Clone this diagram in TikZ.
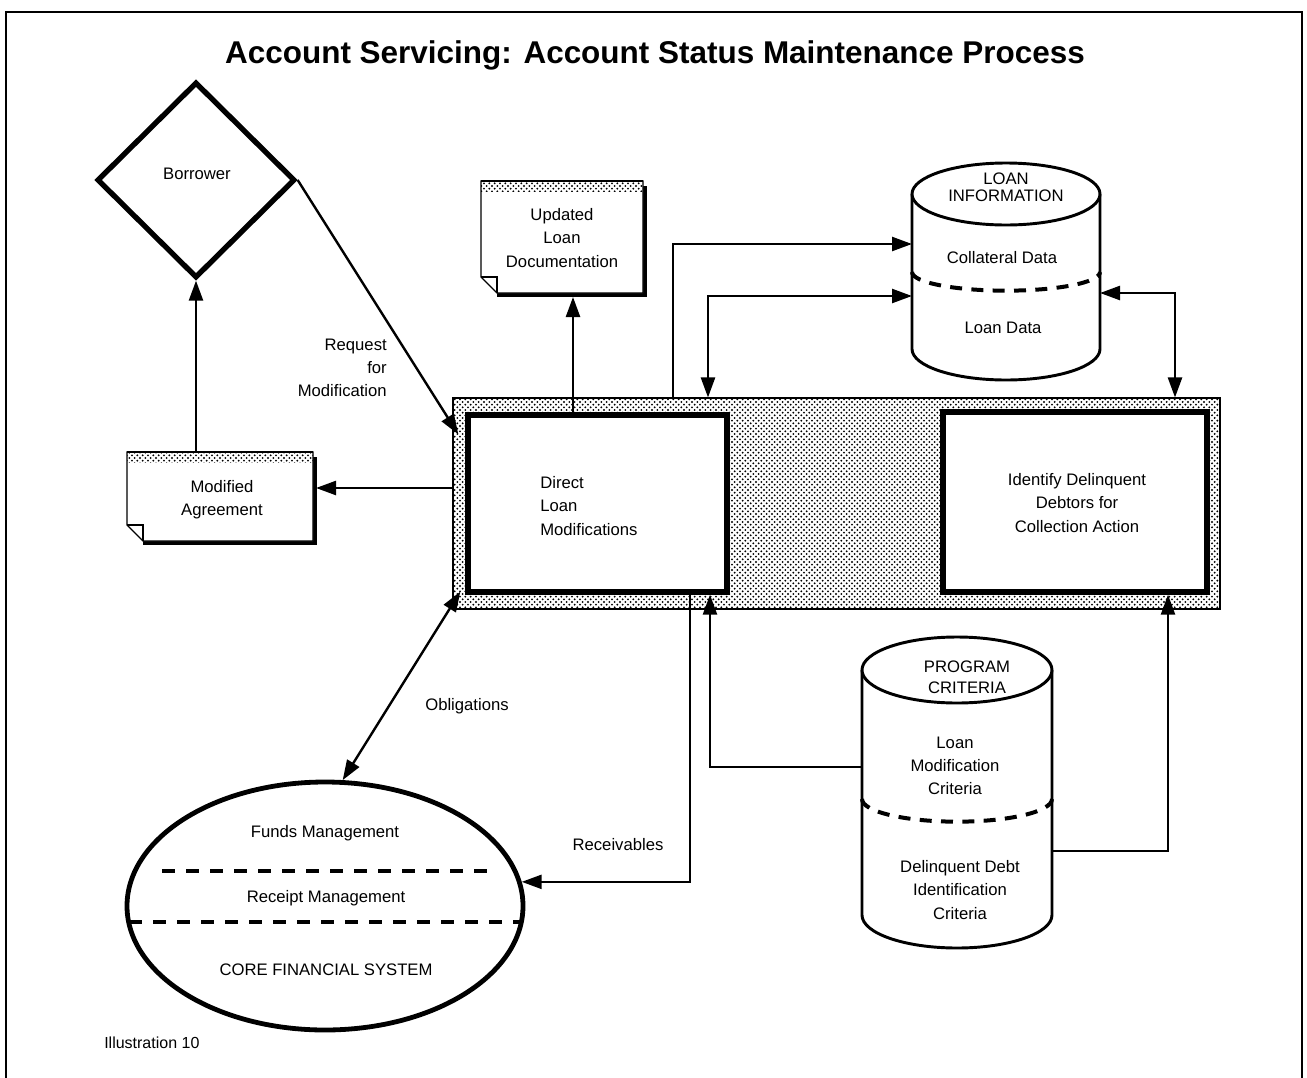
\documentclass[tikz,border=0pt]{standalone}
\usepackage{fontspec}
\setmainfont{Liberation Sans}
\usetikzlibrary{arrows.meta,patterns,shapes.geometric}
\pgfdeclarepatternformonly{mydots}{\pgfpoint{-1pt}{-1pt}}{\pgfpoint{5pt}{5pt}}{\pgfpoint{4pt}{4pt}}{%
  \pgfpathcircle{\pgfpoint{1pt}{1pt}}{0.8pt}%
  \pgfpathcircle{\pgfpoint{3pt}{3pt}}{0.8pt}%
  \pgfusepath{fill}}
\newcommand{\mydocshape}[4]{%
  \draw[line width=3.5pt] (#3+2,#2+5) -- (#3+2,#4+2) -- (#1+16,#4+2);
  \filldraw[fill=white,line width=1pt] (#1,#2) -- (#3,#2) -- (#3,#4) -- (#1+16,#4) -- (#1,#4-16) -- cycle;
  \fill[pattern=mydots] (#1,#2) rectangle (#3,#2+10);
  \draw[line width=1pt] (#1,#2) -- (#3,#2);
  \draw[line width=1pt] (#1,#4-16) -- (#1+16,#4-16) -- (#1+16,#4);
}
\begin{document}
\begin{tikzpicture}[x=0.75pt,y=-0.75pt,
  lbl/.style={font=\fontsize{12.5}{17.5}\selectfont, align=center, inner sep=0pt},
  conn/.style={line width=1.8pt, -{Triangle[length=15pt,width=10.5pt]}},
  bconn/.style={line width=1.8pt, {Triangle[length=15pt,width=10.5pt]}-{Triangle[length=15pt,width=10.5pt]}},
  dsh/.style={line width=3pt, dash pattern=on 10pt off 8pt},
  cyl/.style={line width=2.2pt},
  procbox/.style={draw, fill=white, line width=4pt, inner sep=0pt},
  anchorbox/.style={inner sep=0pt, outer sep=0pt}]
\useasboundingbox (0,0) rectangle (1307,1078);
\draw[line width=2.2pt] (6,1100) -- (6,12) -- (1302,12) -- (1302,1100);

\node[font=\bfseries\fontsize{23.6}{27}\selectfont, inner sep=0pt] (title) at (655,55) {Account Servicing: Account Status Maintenance Process};

% helper coordinates
\coordinate (c244) at (0,244);
\coordinate (c296) at (0,296);
\coordinate (c293) at (0,293);
\coordinate (c488) at (0,488);
\coordinate (c767) at (0,767);
\coordinate (c851) at (0,851);
\coordinate (c573) at (573,0);
\coordinate (c673) at (673,0);
\coordinate (c708) at (708,0);
\coordinate (c1175) at (1175,0);
\coordinate (c690) at (690,0);
\coordinate (c710) at (710,0);
\coordinate (c1168) at (1168,0);

% band
\node[draw, line width=0.8pt, pattern=mydots, minimum width=575.25pt, minimum height=158.25pt, inner sep=0pt] (band) at (836.5,503.5) {};
\node[procbox, minimum width=194.25pt, minimum height=132.75pt] (dlm) at (597.5,503.5) {};
\node[lbl, align=left, anchor=west] (dlmtext) at (540,506) {Direct\\Loan\\Modifications};
\node[procbox, minimum width=198pt, minimum height=135pt] (idb) at (1075,502) {};
\node[lbl] (idbtext) at (1077,503) {Identify Delinquent\\Debtors for\\Collection Action};

% borrower
\node[diamond, draw, line width=4pt, minimum width=148.5pt, minimum height=147pt, inner sep=0pt] (bor) at (196,180) {};
\node[lbl] (bortext) at (197,174) {Borrower};

% documents
\mydocshape{127}{452}{313}{541}
\node[anchorbox, minimum width=141.75pt, minimum height=69pt] (ma) at (221.5,498) {};
\node[lbl] (matext) at (222,500) {Modified\\Agreement};

\mydocshape{481}{181}{643}{293}
\node[anchorbox, minimum width=123pt, minimum height=87pt] (uld) at (563,239) {};
\node[lbl] (uldtext) at (562,238) {Updated\\Loan\\Documentation};

% loan information cylinder
\filldraw[cyl, fill=white] (912,194) -- (912,349) arc[start angle=180, end angle=360, x radius=70.5pt, y radius=23.25pt] -- (1100,194);
\draw[cyl, fill=white] (1006,194) ellipse [x radius=70.5pt, y radius=23.25pt];
\draw[dsh, dash pattern=on 9pt off 7pt] (912,272) arc[start angle=180, end angle=360, x radius=70.5pt, y radius=14pt];
\node[anchorbox, minimum width=141pt, minimum height=162.75pt] (li) at (1006,271.5) {};
\node[lbl, font=\fontsize{12.5}{13}\selectfont] (litext) at (1006,187) {LOAN\\INFORMATION};
\node[lbl] (coltext) at (1002,258) {Collateral Data};
\node[lbl] (ldtext) at (1003,328) {Loan Data};

% program criteria cylinder
\filldraw[cyl, fill=white] (862,670) -- (862,915) arc[start angle=180, end angle=360, x radius=71.25pt, y radius=24.75pt] -- (1052,670);
\draw[cyl, fill=white] (957,670) ellipse [x radius=71.25pt, y radius=24.75pt];
\draw[dsh, dash pattern=on 9pt off 7pt] (862,799) arc[start angle=180, end angle=360, x radius=71.25pt, y radius=17pt];
\node[anchorbox, minimum width=142.5pt, minimum height=233.25pt] (pc) at (957,792.5) {};
\node[lbl, font=\fontsize{12.5}{15.5}\selectfont] (pctext) at (967,677) {PROGRAM\\CRITERIA};
\node[lbl] (lmctext) at (955,766) {Loan\\Modification\\Criteria};
\node[lbl] (ddtext) at (960,890) {Delinquent Debt\\Identification\\Criteria};

% core financial system
\node[ellipse, draw, line width=3.6pt, minimum width=297pt, minimum height=186pt, inner sep=0pt] (cfs) at (325,906) {};
\draw[dsh] (162,871) -- (490,871);
\draw[dsh] (129,922) -- (521,922);
\node[lbl] (fmtext) at (325,833) {Funds Management};
\node[lbl] (rmtext) at (326,898) {Receipt Management};
\node[lbl] (cfstext) at (326,970) {CORE FINANCIAL SYSTEM};

% connectors
\draw[conn] (bor.east) -- ([shift={(-7,22)}]dlm.north west);
\draw[conn] (bor.south |- ma.north) -- (bor.south);
\draw[conn] (band.west |- c488) -- (ma.east |- c488);
\draw[conn] (dlm.north -| c573) -- (uld.south -| c573);
\draw[conn] (band.north -| c673) |- (li.west |- c244);
\draw[bconn] (band.north -| c708) |- (li.west |- c296);
\draw[bconn] (li.east |- c293) -| (band.north -| c1175);
\draw[bconn] ([shift={(-5,-3)}]dlm.south west) -- (cfs.82);
\draw[conn] (dlm.south -| c690) |- (cfs.7);
\draw[conn] (pc.west |- c767) -| (dlm.south -| c710);
\draw[conn] (pc.east |- c851) -| (idb.south -| c1168);

% connector labels
\node[lbl, align=right, anchor=east] (reqtext) at (387,368) {Request\\for\\Modification};
\node[lbl] (obltext) at (467,706) {Obligations};
\node[lbl] (rectext) at (618,845) {Receivables};
\node[lbl, font=\fontsize{12}{14}\selectfont, anchor=west] (illtext) at (104,1043) {Illustration 10};
\end{tikzpicture}
\end{document}
